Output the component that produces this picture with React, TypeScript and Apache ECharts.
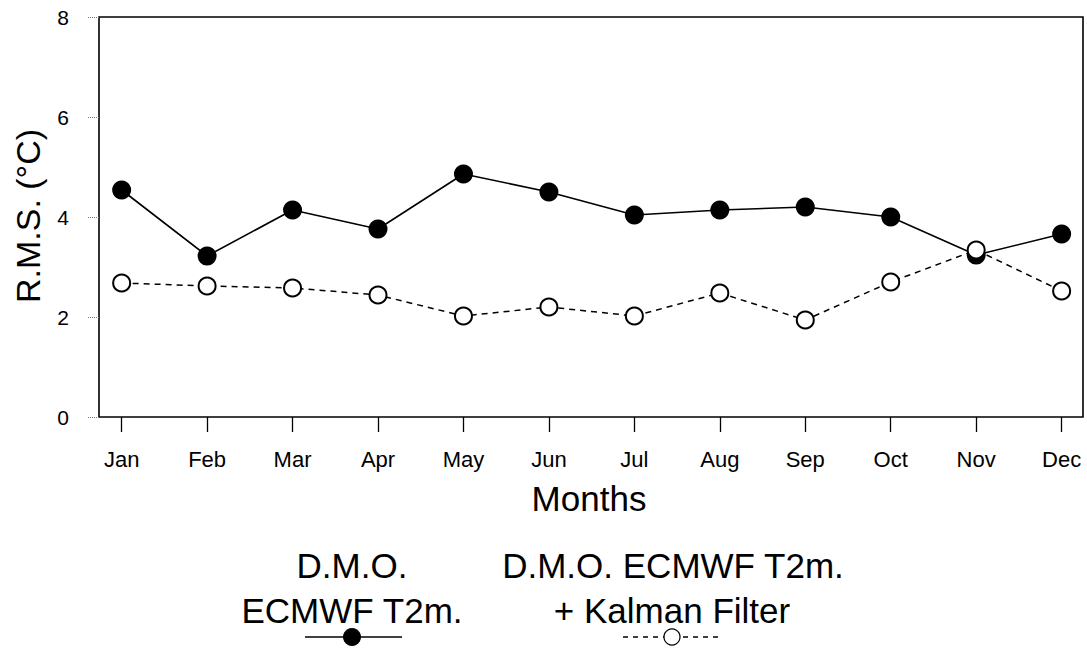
import React, { useEffect, useRef } from "react";
import * as echarts from "echarts";

const months = ["Jan", "Feb", "Mar", "Apr", "May", "Jun", "Jul", "Aug", "Sep", "Oct", "Nov", "Dec"];
const dmoValues = [4.54, 3.22, 4.14, 3.76, 4.86, 4.5, 4.04, 4.14, 4.2, 4.0, 3.24, 3.66];
const kalmanValues = [2.68, 2.62, 2.58, 2.44, 2.02, 2.2, 2.02, 2.48, 1.94, 2.7, 3.34, 2.52];
const monthIdx = months.map((_, i) => i);

const FONT = "'Liberation Sans', Arial, Helvetica, sans-serif";

export default function App() {
  const ref = useRef<HTMLDivElement>(null);
  useEffect(() => {
    if (!ref.current) return;
    document.body.style.margin = "0";
    const chart = echarts.init(ref.current, null, { renderer: "svg" });
    const option: any = {
      animation: false,
      backgroundColor: "#ffffff",
      textStyle: { fontFamily: FONT },
      grid: {
        left: 99,
        right: 4,
        top: 17,
        bottom: 231,
        show: true,
        borderColor: "#000",
        borderWidth: 1.6,
        backgroundColor: "transparent",
      },
      xAxis: {
        type: "value",
        min: -0.265,
        max: 11.25,
        splitLine: { show: false },
        axisLine: { show: false, onZero: false },
        axisTick: {
          show: true,
          customValues: monthIdx,
          length: 15,
          lineStyle: { color: "#000", width: 1.3 },
        },
        axisLabel: {
          show: true,
          customValues: monthIdx,
          formatter: (v: number) => months[Math.round(v)] ?? "",
          fontSize: 22,
          color: "#000",
          margin: 31,
          fontFamily: FONT,
        },
      },
      yAxis: {
        type: "value",
        min: 0,
        max: 8,
        interval: 2,
        splitLine: { show: false },
        axisLine: { show: false, onZero: false },
        axisTick: {
          show: true,
          length: 12,
          lineStyle: { color: "#777", width: 1, type: "dotted" },
        },
        axisLabel: {
          fontSize: 21,
          color: "#000",
          margin: 30,
          fontFamily: FONT,
        },
      },
      series: [
        {
          type: "line",
          name: "D.M.O. ECMWF T2m.",
          data: dmoValues.map((v, i) => [i, v]),
          symbol: "circle",
          symbolSize: 19,
          lineStyle: { color: "#000", width: 1.6 },
          itemStyle: { color: "#000" },
          z: 2,
        },
        {
          type: "line",
          name: "D.M.O. ECMWF T2m. + Kalman Filter",
          data: kalmanValues.map((v, i) => [i, v]),
          symbol: "emptyCircle",
          symbolSize: 17,
          lineStyle: { color: "#000", width: 1.5, type: [6, 5] },
          itemStyle: { color: "#000", borderColor: "#000", borderWidth: 1.2 },
          z: 3,
        },
      ],
      graphic: [
        {
          type: "text",
          x: 28,
          y: 216,
          rotation: Math.PI / 2,
          style: {
            text: "R.M.S. (°C)",
            font: `34px ${FONT}`,
            fill: "#000",
            align: "center",
            verticalAlign: "middle",
          },
        },
        {
          type: "text",
          x: 589,
          y: 498,
          style: {
            text: "Months",
            font: `35px ${FONT}`,
            fill: "#000",
            align: "center",
            verticalAlign: "middle",
          },
        },
        {
          type: "text",
          x: 352,
          y: 565,
          style: { text: "D.M.O.", font: `35px ${FONT}`, fill: "#000", align: "center", verticalAlign: "middle" },
        },
        {
          type: "text",
          x: 352,
          y: 610,
          style: { text: "ECMWF T2m.", font: `35px ${FONT}`, fill: "#000", align: "center", verticalAlign: "middle" },
        },
        {
          type: "line",
          shape: { x1: 305, y1: 637, x2: 402, y2: 637 },
          style: { stroke: "#000", lineWidth: 1.5 },
        },
        {
          type: "circle",
          shape: { cx: 352, cy: 637, r: 9 },
          style: { fill: "#000" },
        },
        {
          type: "text",
          x: 673,
          y: 565,
          style: { text: "D.M.O. ECMWF T2m.", font: `35px ${FONT}`, fill: "#000", align: "center", verticalAlign: "middle" },
        },
        {
          type: "text",
          x: 672,
          y: 610,
          style: { text: "+ Kalman Filter", font: `35px ${FONT}`, fill: "#000", align: "center", verticalAlign: "middle" },
        },
        {
          type: "line",
          shape: { x1: 623, y1: 637, x2: 722, y2: 637 },
          style: { stroke: "#000", lineWidth: 1.3, lineDash: [5, 5] },
        },
        {
          type: "circle",
          shape: { cx: 672, cy: 637, r: 8 },
          style: { fill: "#fff", stroke: "#000", lineWidth: 1.2 },
        },
      ],
    };
    chart.setOption(option);
    return () => chart.dispose();
  }, []);
  return <div ref={ref} style={{ width: 1087, height: 648 }} />;
}
